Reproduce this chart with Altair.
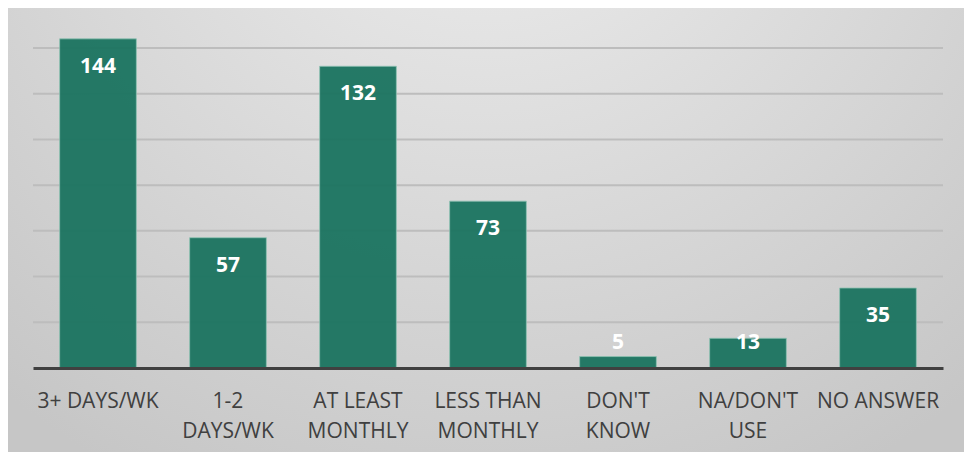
import altair as alt
import pandas as pd

categories = ["3+ DAYS/WK", "1-2\nDAYS/WK", "AT LEAST\nMONTHLY", "LESS THAN\nMONTHLY",
              "DON'T\nKNOW", "NA/DON'T\nUSE", "NO ANSWER"]
counts = [144, 57, 132, 73, 5, 13, 35]
grid_values = [20, 40, 60, 80, 100, 120, 140, 160]

df = pd.DataFrame({"cat": categories, "n": counts})
grid_df = pd.DataFrame({"g": grid_values})

W, H = 910, 360
PAD = {"left": 25, "top": 0, "right": 21, "bottom": 84}

xscale = alt.Scale(domain=categories, paddingInner=0.41, paddingOuter=0.205)
yscale = alt.Scale(domain=[0, 157.5], nice=False, zero=True)

bg = alt.Chart(alt.Data(values=[{"a": 1}])).mark_rect(
    color={
        "gradient": "radial",
        "x1": 0.5, "y1": 0.05, "r1": 0,
        "x2": 0.5, "y2": 0.05, "r2": 0.8,
        "stops": [
            {"offset": 0, "color": "#f0f0f0"},
            {"offset": 1, "color": "#c6c6c6"},
        ],
    }
).encode(
    x=alt.value(-PAD["left"]), x2=alt.value(W + PAD["right"]),
    y=alt.value(-PAD["top"]), y2=alt.value(H + PAD["bottom"]),
)

grid = alt.Chart(grid_df).mark_rule(color="#bdbdbd", strokeWidth=2).encode(
    y=alt.Y("g:Q", scale=yscale, axis=None),
    x=alt.value(0), x2=alt.value(W),
)

bars = alt.Chart(df).mark_bar(
    color="#1b7460", opacity=0.95, stroke="#8cc2b2", strokeWidth=1, strokeOpacity=0.8
).encode(
    x=alt.X("cat:N", scale=xscale, sort=categories,
            axis=alt.Axis(title=None, labelAngle=0, ticks=False,
                          domainColor="#404040", domainWidth=3,
                          labelExpr="split(datum.label, '\\n')",
                          labelFont="Open Sans", labelFontSize=21,
                          labelColor="#404040", labelLineHeight=30,
                          labelPadding=22, labelLimit=300, zindex=2)),
    y=alt.Y("n:Q", scale=yscale, axis=None),
)

labels = alt.Chart(df).transform_calculate(
    pos="max(datum.n - 12.25, 10.9)"
).mark_text(
    color="white", font="Open Sans", fontWeight="bold", fontSize=21, baseline="middle"
).encode(
    x=alt.X("cat:N", scale=xscale, sort=categories),
    y=alt.Y("pos:Q", scale=yscale, axis=None),
    text="n:Q",
)

chart = alt.layer(bg, grid, bars, labels).properties(
    width=W, height=H, padding=PAD, autosize=alt.AutoSizeParams(type="none"),
    background="#d0d0d0",
).configure_view(stroke=None)

chart.save("out.html", embed_options={"renderer": "svg", "actions": False})
